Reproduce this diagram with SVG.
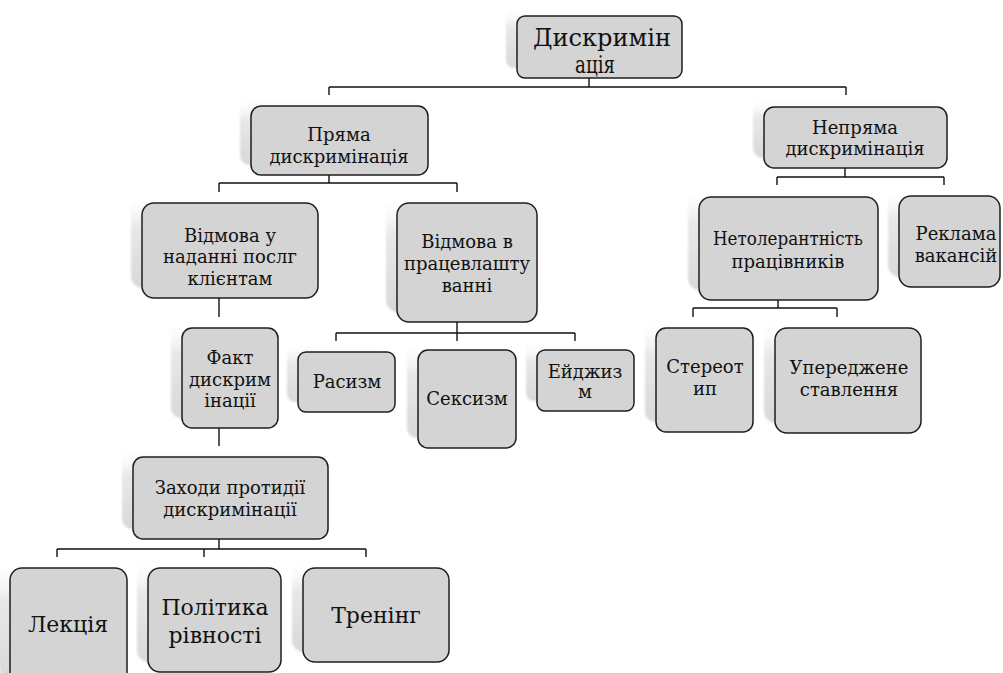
<svg xmlns="http://www.w3.org/2000/svg" width="1003" height="673" viewBox="0 0 1003 673">
<defs>
<linearGradient id="shg" x1="0" y1="0" x2="0" y2="1">
<stop offset="0" stop-color="#ffffff" stop-opacity="0"/>
<stop offset="0.35" stop-color="#e8e8e8" stop-opacity="1"/>
<stop offset="1" stop-color="#d8d8d8" stop-opacity="1"/>
</linearGradient>
<filter id="blur" x="-10%" y="-10%" width="120%" height="120%">
<feGaussianBlur stdDeviation="0.8"/>
</filter>
</defs>
<style>
.sh{fill:url(#shg);filter:url(#blur);}
.box{fill:#d4d4d4;stroke:#1e1e1e;stroke-width:1.5;}
.t{font-family:"DejaVu Serif","Liberation Serif",serif;font-size:18px;fill:#111;text-anchor:middle;}
.big{font-size:22px;}
.root{font-size:24px;}
.c{fill:none;stroke:#111;stroke-width:1.4;}
</style>
<rect width="1003" height="673" fill="#ffffff"/>

<g id="connectors">
<path class="c" d="M589 78V87M329 87H846M329 87V95M846 87V95"/>
<path class="c" d="M329 175V183M219 183H457M219 183V192M457 183V192"/>
<path class="c" d="M219 298V317"/>
<path class="c" d="M219 428V446"/>
<path class="c" d="M219 539V549M57 549H366M57 549V557M204 549V557M366 549V557"/>
<path class="c" d="M457 322V333M336 333H575M336 333V341M457 333V341M575 333V341"/>
<path class="c" d="M845 168V177M777 177H944M777 177V185M944 177V185"/>
<path class="c" d="M778 300V308M693 308H837M693 308V317M837 308V317"/>
</g>

<g id="n-root">
<rect class="sh" x="506" y="6" width="165" height="62" rx="8"/>
<rect class="box" x="517" y="16" width="165" height="62" rx="8"/>
<text class="t root" x="602" y="46" textLength="138" lengthAdjust="spacingAndGlyphs">Дискримін</text>
<text class="t root" x="595" y="73" textLength="40" lengthAdjust="spacingAndGlyphs">ація</text>
</g>

<g id="n-pryama">
<rect class="sh" x="240" y="96" width="177" height="69" rx="10"/>
<rect class="box" x="251" y="106" width="177" height="69" rx="10"/>
<text class="t" x="339" y="141">Пряма</text>
<text class="t" x="339" y="163">дискримінація</text>
</g>

<g id="n-nepryama">
<rect class="sh" x="753" y="97" width="183" height="61" rx="10"/>
<rect class="box" x="764" y="107" width="183" height="61" rx="10"/>
<text class="t" x="855" y="134">Непряма</text>
<text class="t" x="855" y="155">дискримінація</text>
</g>

<g id="n-vidmova-poslug">
<rect class="sh" x="131" y="193" width="176" height="95" rx="12"/>
<rect class="box" x="142" y="203" width="176" height="95" rx="12"/>
<text class="t" x="230" y="242">Відмова у</text>
<text class="t" x="230" y="263">наданні послг</text>
<text class="t" x="230" y="285">клієнтам</text>
</g>

<g id="n-vidmova-pratsevlashtuvanni">
<rect class="sh" x="386" y="193" width="140" height="119" rx="12"/>
<rect class="box" x="397" y="203" width="140" height="119" rx="12"/>
<text class="t" x="467" y="248">Відмова в</text>
<text class="t" x="467" y="270">працевлашту</text>
<text class="t" x="467" y="292">ванні</text>
</g>

<g id="n-netolerantnist">
<rect class="sh" x="688" y="187" width="179" height="103" rx="12"/>
<rect class="box" x="699" y="197" width="179" height="103" rx="12"/>
<text class="t" x="788" y="245" textLength="150" lengthAdjust="spacingAndGlyphs">Нетолерантність</text>
<text class="t" x="788" y="268">працівників</text>
</g>

<g id="n-reklama">
<rect class="sh" x="888" y="186" width="101" height="91" rx="12"/>
<rect class="box" x="899" y="196" width="101" height="91" rx="12"/>
<text class="t" x="956" y="240">Реклама</text>
<text class="t" x="956" y="262">вакансій</text>
</g>

<g id="n-fakt">
<rect class="sh" x="171" y="318" width="96" height="100" rx="10"/>
<rect class="box" x="182" y="328" width="96" height="100" rx="10"/>
<text class="t" x="230" y="364">Факт</text>
<text class="t" x="230" y="386">дискрим</text>
<text class="t" x="230" y="407">інації</text>
</g>

<g id="n-rasyzm">
<rect class="sh" x="287" y="342" width="97" height="60" rx="8"/>
<rect class="box" x="298" y="352" width="97" height="60" rx="8"/>
<text class="t" x="347" y="388">Расизм</text>
</g>

<g id="n-seksyzm">
<rect class="sh" x="407" y="340" width="98" height="98" rx="10"/>
<rect class="box" x="418" y="350" width="98" height="98" rx="10"/>
<text class="t" x="467" y="405">Сексизм</text>
</g>

<g id="n-eidzhyzm">
<rect class="sh" x="526" y="340" width="97" height="61" rx="8"/>
<rect class="box" x="537" y="350" width="97" height="61" rx="8"/>
<text class="t" x="585" y="378">Ейджиз</text>
<text class="t" x="585" y="398">м</text>
</g>

<g id="n-stereotyp">
<rect class="sh" x="645" y="318" width="97" height="104" rx="10"/>
<rect class="box" x="656" y="328" width="97" height="104" rx="10"/>
<text class="t" x="705" y="373">Стереот</text>
<text class="t" x="705" y="395">ип</text>
</g>

<g id="n-uperedzhene">
<rect class="sh" x="764" y="318" width="146" height="105" rx="12"/>
<rect class="box" x="775" y="328" width="146" height="105" rx="12"/>
<text class="t" x="849" y="374">Упереджене</text>
<text class="t" x="849" y="396">ставлення</text>
</g>

<g id="n-zakhody">
<rect class="sh" x="122" y="447" width="195" height="82" rx="10"/>
<rect class="box" x="133" y="457" width="195" height="82" rx="10"/>
<text class="t" x="230" y="494">Заходи протидії</text>
<text class="t" x="230" y="516">дискримінації</text>
</g>

<g id="n-lektsiya">
<rect class="sh" x="-1" y="558" width="117" height="120" rx="12"/>
<rect class="box" x="10" y="568" width="117" height="120" rx="12"/>
<text class="t big" x="68" y="632">Лекція</text>
</g>

<g id="n-polityka">
<rect class="sh" x="137" y="558" width="133" height="104" rx="12"/>
<rect class="box" x="148" y="568" width="133" height="104" rx="12"/>
<text class="t big" x="215" y="615">Політика</text>
<text class="t big" x="215" y="643">рівності</text>
</g>

<g id="n-trening">
<rect class="sh" x="292" y="558" width="146" height="94" rx="12"/>
<rect class="box" x="303" y="568" width="146" height="94" rx="12"/>
<text class="t big" x="376" y="623">Тренінг</text>
</g>
</svg>
